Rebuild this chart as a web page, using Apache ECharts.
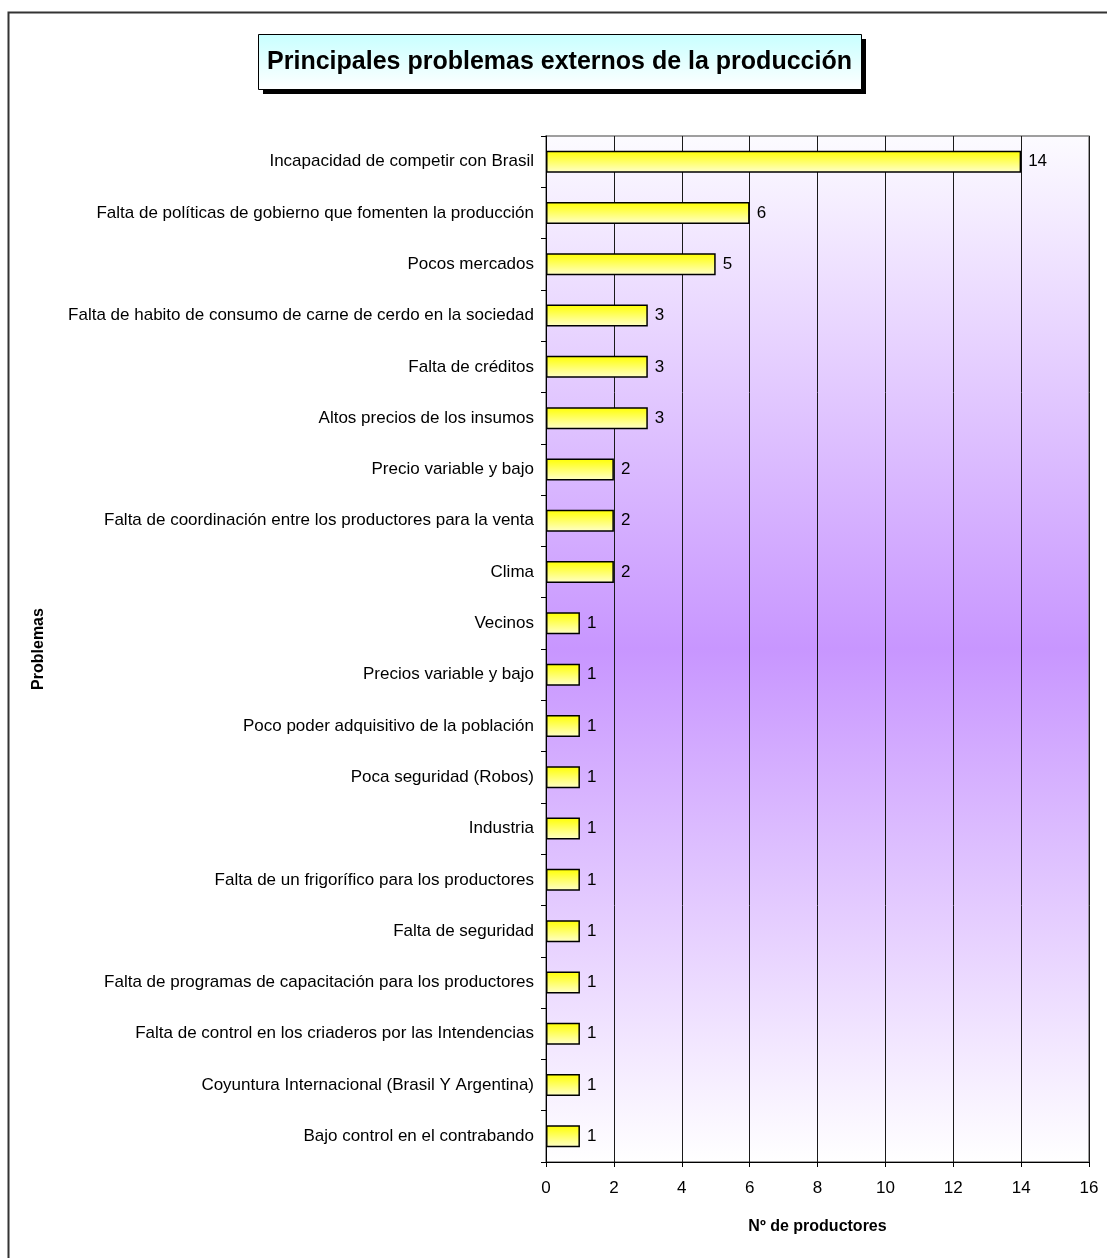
<!DOCTYPE html>
<html>
<head>
<meta charset="utf-8">
<script src="https://cdn.jsdelivr.net/npm/echarts@6/dist/echarts.min.js"></script>
<style>
  html, body { margin: 0; padding: 0; background: #ffffff; }
  #chart { width: 1107px; height: 1258px; }
</style>
</head>
<body>
<div id="chart"></div>
<script>
// Problems, listed from top to bottom
const problemas = [
  'Incapacidad de competir con Brasil',
  'Falta de políticas de gobierno que fomenten la producción',
  'Pocos mercados',
  'Falta de habito de consumo de carne de cerdo en la sociedad',
  'Falta de créditos',
  'Altos precios de los insumos',
  'Precio variable y bajo',
  'Falta de coordinación entre los productores para la venta',
  'Clima',
  'Vecinos',
  'Precios variable y bajo',
  'Poco poder adquisitivo de la población',
  'Poca seguridad (Robos)',
  'Industria',
  'Falta de un frigorífico para los productores',
  'Falta de seguridad',
  'Falta de programas de capacitación para los productores',
  'Falta de control en los criaderos por las Intendencias',
  'Coyuntura Internacional (Brasil Y Argentina)',
  'Bajo control en el contrabando'
];

// Number of producers citing each problem
const productores = [14, 6, 5, 3, 3, 3, 2, 2, 2, 1, 1, 1, 1, 1, 1, 1, 1, 1, 1, 1];

const tituloGrafico = 'Principales problemas externos de la producción';
const tituloEjeX = 'Nº de productores';
const tituloEjeY = 'Problemas';

const FONT = 'Arial, "Liberation Sans", sans-serif';

const chart = echarts.init(document.getElementById('chart'), null, { renderer: 'canvas' });

const option = {
  animation: false,
  backgroundColor: '#ffffff',
  textStyle: { fontFamily: FONT, color: '#000' },
  grid: {
    show: true,
    left: 546,
    right: 18,
    top: 136,
    bottom: 96,
    containLabel: false,
    borderColor: '#808080',
    borderWidth: 1.5,
    backgroundColor: {
      type: 'linear', x: 0, y: 0, x2: 0, y2: 1,
      colorStops: [
        { offset: 0, color: '#fcfbff' },
        { offset: 0.5, color: '#c896ff' },
        { offset: 1, color: '#ffffff' }
      ]
    }
  },
  xAxis: {
    type: 'value',
    min: 0,
    max: 16,
    interval: 2,
    name: tituloEjeX,
    nameLocation: 'middle',
    nameGap: 57,
    nameTextStyle: { fontFamily: FONT, fontSize: 16, fontWeight: 'bold', color: '#000' },
    axisLine: { show: true, lineStyle: { color: '#000', width: 1 } },
    axisTick: { show: true, length: 5, lineStyle: { color: '#000' } },
    axisLabel: { fontFamily: FONT, fontSize: 17, color: '#000', margin: 18 },
    splitLine: { show: true, lineStyle: { color: '#1a1a1a', width: 1 } }
  },
  yAxis: {
    type: 'category',
    data: problemas,
    inverse: true,
    name: tituloEjeY,
    nameLocation: 'middle',
    nameRotate: 90,
    nameGap: 499,
    nameTextStyle: { fontFamily: FONT, fontSize: 16, fontWeight: 'bold', color: '#000' },
    axisLine: { show: true, lineStyle: { color: '#000', width: 1 } },
    axisTick: { show: true, length: 5, lineStyle: { color: '#000' } },
    axisLabel: { fontFamily: FONT, fontSize: 17, color: '#000', margin: 12 },
    splitLine: { show: false }
  },
  series: [{
    type: 'bar',
    data: productores,
    barWidth: 22,
    itemStyle: {
      color: {
        type: 'linear', x: 0, y: 0, x2: 0, y2: 1,
        colorStops: [
          { offset: 0, color: '#ffff00' },
          { offset: 1, color: '#ffffcc' }
        ]
      },
      borderColor: '#000',
      borderWidth: 1.5
    },
    label: {
      show: true,
      position: 'right',
      distance: 7,
      fontFamily: FONT,
      fontSize: 17,
      color: '#000'
    }
  }],
  graphic: [
    // outer frame of the chart area
    {
      type: 'rect', left: 6, top: 10, silent: true, z: 0,
      shape: { width: 1200, height: 1400 },
      style: { fill: 'none', stroke: '#333', lineWidth: 2 }
    },
    // title box shadow
    {
      type: 'rect', left: 263, top: 39, z: 10,
      shape: { width: 603, height: 55 },
      style: { fill: '#000' }
    },
    // title box
    {
      type: 'rect', left: 258, top: 34, z: 11,
      shape: { width: 603, height: 55 },
      style: {
        fill: {
          type: 'linear', x: 0, y: 0, x2: 0, y2: 1,
          colorStops: [
            { offset: 0, color: '#c8ffff' },
            { offset: 1, color: '#ffffff' }
          ]
        },
        stroke: '#000', lineWidth: 1
      }
    },
    {
      type: 'text', z: 12,
      x: 559.5, y: 62,
      style: {
        text: tituloGrafico,
        fontFamily: FONT, fontSize: 25, fontWeight: 'bold',
        fill: '#000', align: 'center', verticalAlign: 'middle'
      }
    }
  ]
};

chart.setOption(option);
</script>
</body>
</html>
